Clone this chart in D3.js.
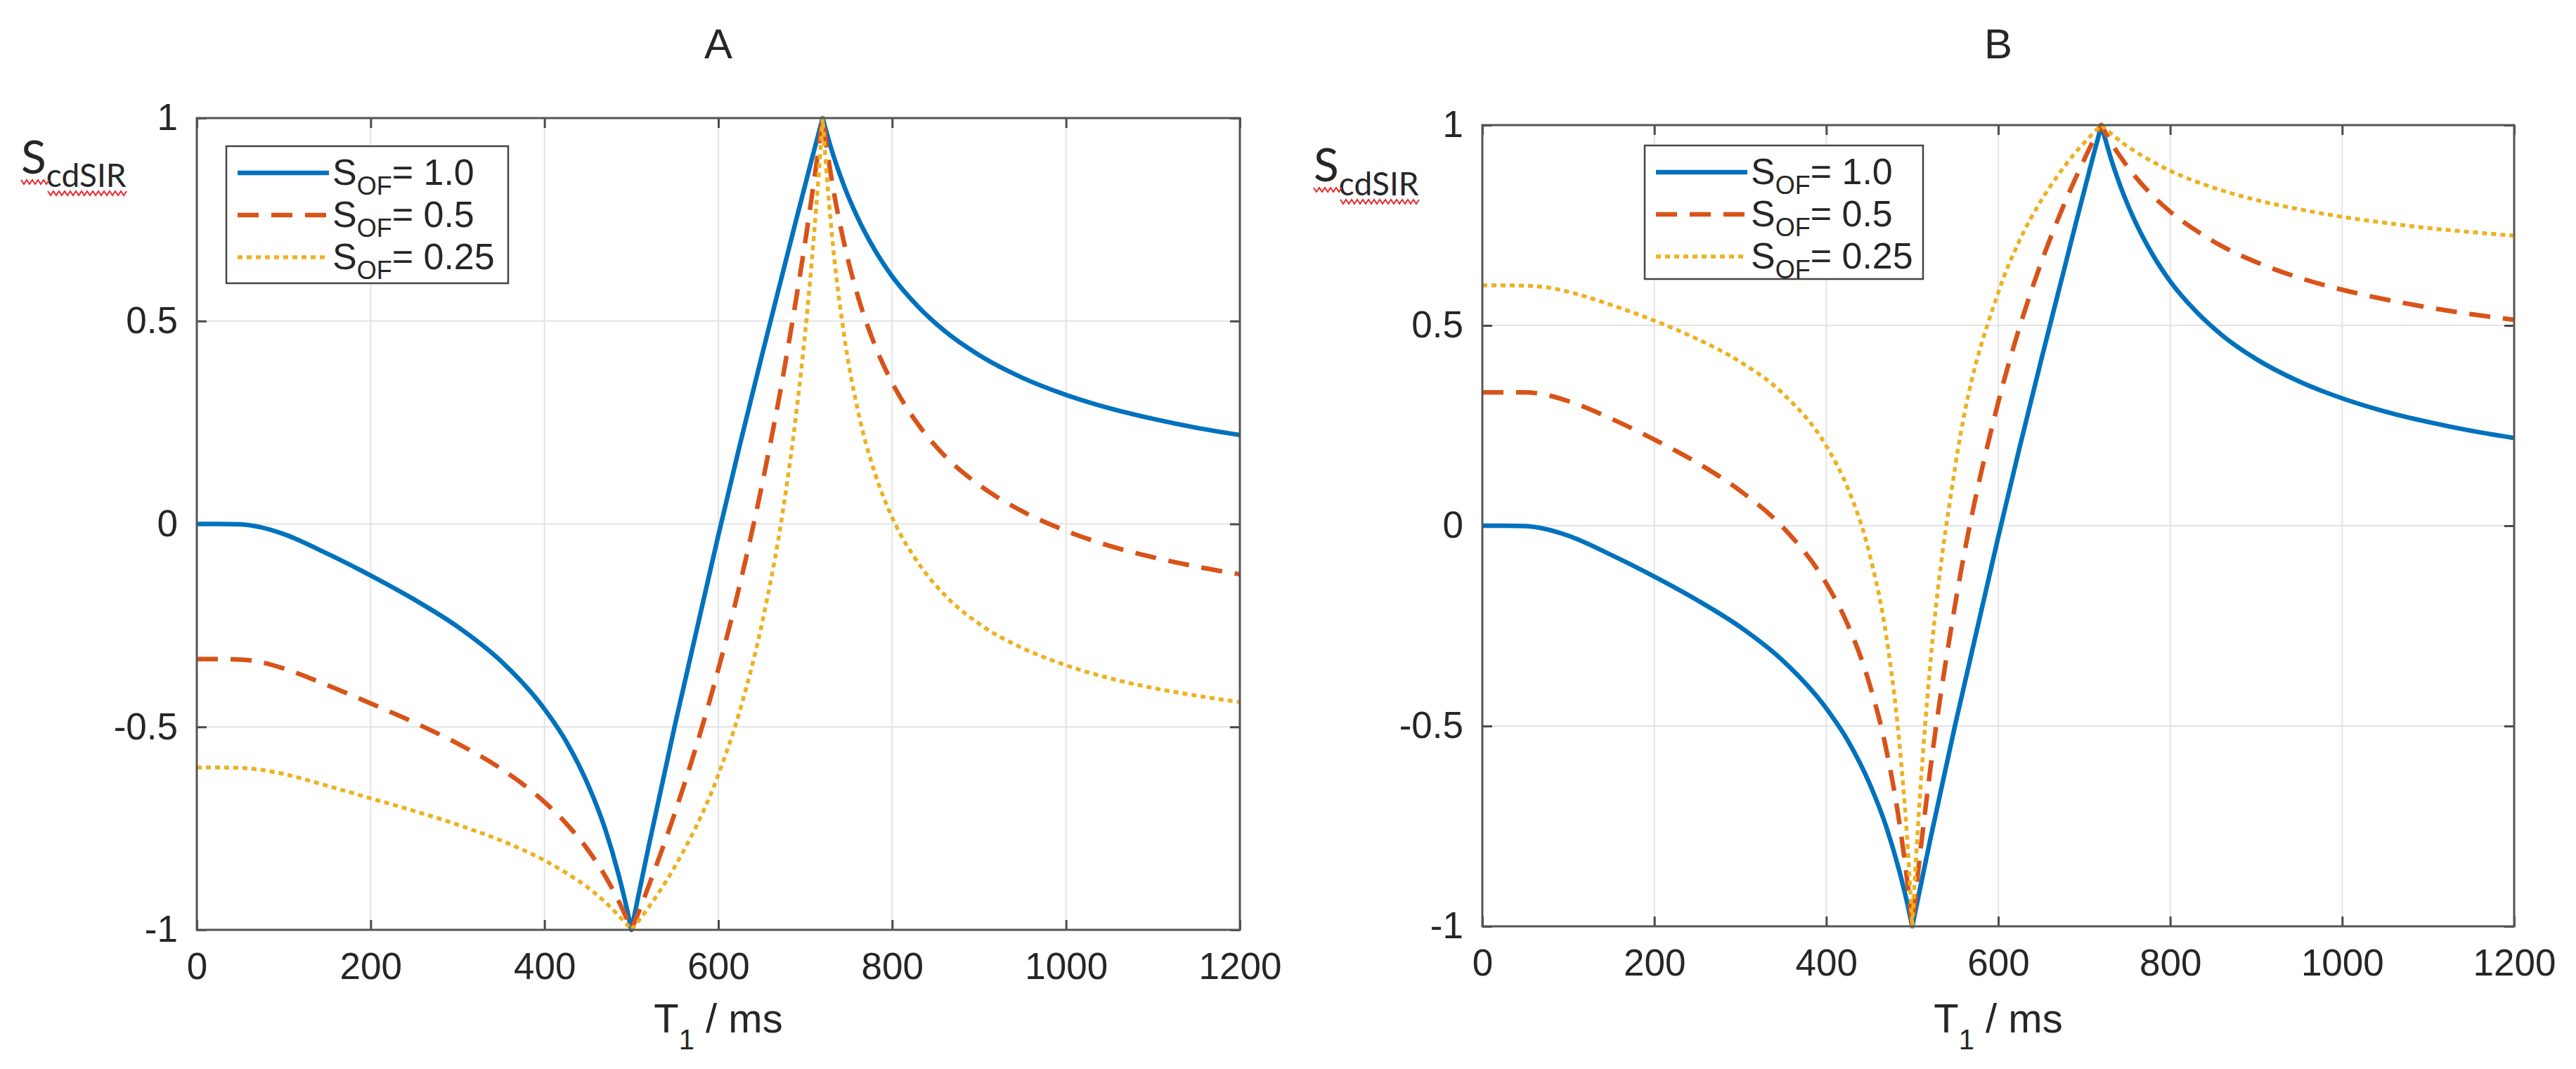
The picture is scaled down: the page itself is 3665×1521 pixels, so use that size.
<!DOCTYPE html>
<html>
<head>
<meta charset="utf-8">
<script src="https://cdn.jsdelivr.net/npm/d3@7"></script>
<style>
  body { margin: 0; background: #fff; }
  svg text { font-family: "Liberation Sans", Arial, sans-serif; fill: #262626; }
</style>
</head>
<body>
<div id="chart"></div>
<script>
// T1 in ms, shared by every curve
const t1 = [0, 25, 50, 75, 100, 150, 200, 250, 300, 350, 400, 425, 450, 470, 485, 495, 500, 505, 510, 520,
  550, 600, 625, 650, 675, 690, 700, 710, 715, 720, 725, 730, 745, 760, 780, 800, 830, 860, 900, 950,
  1000, 1050, 1100, 1150, 1200];

// panel A
const aSof100 = [0, 0, -0.001, -0.009, -0.025, -0.073, -0.127, -0.186, -0.253, -0.338, -0.456, -0.536, -0.642, -0.753, -0.862,
  -0.950, -1, -0.948, -0.896, -0.793, -0.496, -0.028, 0.197, 0.414, 0.626, 0.753, 0.836, 0.919, 0.959, 1,
  0.961, 0.924, 0.831, 0.756, 0.675, 0.610, 0.535, 0.476, 0.416, 0.360, 0.318, 0.285, 0.259, 0.237, 0.219];
const aSof050 = [-0.333, -0.333, -0.334, -0.341, -0.356, -0.397, -0.442, -0.489, -0.541, -0.603, -0.685, -0.738, -0.803, -0.868, -0.928,
  -0.974, -1, -0.974, -0.947, -0.891, -0.712, -0.358, -0.147, 0.094, 0.371, 0.561, 0.696, 0.844, 0.920, 1,
  0.923, 0.854, 0.689, 0.565, 0.441, 0.348, 0.245, 0.169, 0.096, 0.031, -0.017, -0.054, -0.082, -0.105, -0.124];
const aSof025 = [-0.600, -0.600, -0.601, -0.606, -0.616, -0.645, -0.676, -0.707, -0.741, -0.780, -0.829, -0.860, -0.896, -0.932, -0.964,
  -0.987, -1, -0.987, -0.973, -0.944, -0.844, -0.618, -0.458, -0.247, 0.042, 0.279, 0.473, 0.711, 0.847, 1,
  0.852, 0.728, 0.461, 0.285, 0.126, 0.016, -0.096, -0.174, -0.246, -0.306, -0.348, -0.380, -0.404, -0.423, -0.439];

// panel B
const bSof100 = [0, 0, -0.001, -0.009, -0.025, -0.073, -0.127, -0.186, -0.253, -0.338, -0.456, -0.536, -0.642, -0.753, -0.862,
  -0.950, -1, -0.948, -0.896, -0.793, -0.496, -0.028, 0.197, 0.414, 0.626, 0.753, 0.836, 0.919, 0.959, 1,
  0.961, 0.924, 0.831, 0.756, 0.675, 0.610, 0.535, 0.476, 0.416, 0.360, 0.318, 0.285, 0.259, 0.237, 0.219];
const bSof050 = [0.333, 0.333, 0.333, 0.326, 0.311, 0.267, 0.215, 0.157, 0.087, -0.005, -0.144, -0.247, -0.393, -0.561, -0.741,
  -0.902, -1, -0.899, -0.803, -0.625, -0.195, 0.308, 0.497, 0.657, 0.794, 0.868, 0.914, 0.959, 0.980, 1,
  0.980, 0.961, 0.912, 0.870, 0.823, 0.784, 0.737, 0.698, 0.658, 0.619, 0.589, 0.565, 0.545, 0.528, 0.514];
const bSof025 = [0.600, 0.600, 0.599, 0.595, 0.584, 0.551, 0.512, 0.466, 0.409, 0.329, 0.199, 0.094, -0.068, -0.279, -0.542,
  -0.812, -1, -0.808, -0.641, -0.368, 0.148, 0.582, 0.713, 0.812, 0.891, 0.932, 0.956, 0.979, 0.990, 1,
  0.990, 0.981, 0.955, 0.933, 0.908, 0.886, 0.859, 0.837, 0.813, 0.790, 0.771, 0.756, 0.743, 0.733, 0.724];

const legendValues = ["1.0", "0.5", "0.25"];
const xTicks = [0, 200, 400, 600, 800, 1000, 1200];
const yTicks = [-1, -0.5, 0, 0.5, 1];
const yTickLabels = ["-1", "-0.5", "0", "0.5", "1"];

const W = 3665, H = 1521;
const colors = ["#0072BD", "#D95319", "#EDB120"];
const dashes = [null, "30,18", "7,6"];
const widths = [6.5, 6.5, 5.5];

const panels = [
  { title: "A", series: [aSof100, aSof050, aSof025],
    box: { left: 280, right: 1764, top: 168, bottom: 1323 },
    legend: { x: 322, y: 208, w: 401, h: 195 }, ylab: { x: 30, y: 247, sub: 266 } },
  { title: "B", series: [bSof100, bSof050, bSof025],
    box: { left: 2109, right: 3577, top: 178, bottom: 1318 },
    legend: { x: 2340, y: 207, w: 396, h: 190 }, ylab: { x: 1869, y: 258, sub: 278 } }
];

const svg = d3.select("#chart").append("svg")
  .attr("width", W).attr("height", H)
  .style("background", "#fff");

// split a series at its cusps so the monotone curve keeps them sharp
function segments(vals) {
  const out = [];
  let start = 0;
  for (let i = 1; i < vals.length - 1; i++) {
    if ((vals[i] - vals[i - 1]) * (vals[i + 1] - vals[i]) < 0) {
      out.push([start, i]);
      start = i;
    }
  }
  out.push([start, vals.length - 1]);
  return out;
}

function squiggle(g, x0, x1, y) {
  const pts = [];
  for (let x = x0, k = 0; x <= x1; x += 4, k++) pts.push([x, y + (k % 2 ? 3 : -3)]);
  g.append("path").attr("d", d3.line()(pts))
    .attr("fill", "none").attr("stroke", "#e8262a").attr("stroke-width", 2);
}

panels.forEach((p) => {
  const b = p.box;
  const width = b.right - b.left;
  const height = b.bottom - b.top;
  const x = d3.scaleLinear().domain([0, 1200]).range([0, width]);
  const y = d3.scaleLinear().domain([-1, 1]).range([height, 0]);

  const g = svg.append("g").attr("transform", `translate(${b.left},${b.top})`);

  // grid
  g.selectAll(".vgrid").data(xTicks.slice(1, -1)).enter().append("line")
    .attr("x1", (d) => x(d)).attr("x2", (d) => x(d))
    .attr("y1", 0).attr("y2", height)
    .attr("stroke", "#e3e3e3").attr("stroke-width", 2);
  g.selectAll(".hgrid").data(yTicks.slice(1, -1)).enter().append("line")
    .attr("y1", (d) => y(d)).attr("y2", (d) => y(d))
    .attr("x1", 0).attr("x2", width)
    .attr("stroke", "#e3e3e3").attr("stroke-width", 2);

  // axes with inward ticks
  const bottom = g.append("g").attr("transform", `translate(0,${height})`)
    .call(d3.axisBottom(x).tickValues(xTicks).tickFormat(d3.format("d")).tickSize(-14).tickPadding(32));
  const left = g.append("g")
    .call(d3.axisLeft(y).tickValues(yTicks).tickFormat((d, i) => yTickLabels[i]).tickSize(-14).tickPadding(27));
  const top = g.append("g").call(d3.axisTop(x).tickValues(xTicks).tickSize(-14).tickFormat(""));
  const right = g.append("g").attr("transform", `translate(${width},0)`)
    .call(d3.axisRight(y).tickValues(yTicks).tickSize(-14).tickFormat(""));

  [bottom, left, top, right].forEach((a) => {
    a.select(".domain").remove();
    a.selectAll(".tick line").attr("stroke", "#4a4a4a").attr("stroke-width", 3);
    a.selectAll("text").style("font-size", "53px").attr("fill", "#262626");
  });

  // curves
  p.series.forEach((vals, si) => {
    const line = d3.line().x((d) => x(d[0])).y((d) => y(d[1])).curve(d3.curveMonotoneX);
    const pts = t1.map((t, i) => [t, vals[i]]);
    const d = segments(vals)
      .map(([s, e], k) => {
        const part = line(pts.slice(s, e + 1));
        return k === 0 ? part : "L" + part.slice(1);
      })
      .join("");
    g.append("path").attr("d", d)
      .attr("fill", "none")
      .attr("stroke", colors[si])
      .attr("stroke-width", widths[si])
      .attr("stroke-linejoin", "round")
      .attr("stroke-dasharray", dashes[si]);
  });

  // box
  g.append("rect").attr("width", width).attr("height", height)
    .attr("fill", "none").attr("stroke", "#555").attr("stroke-width", 3);

  // title
  svg.append("text").attr("x", b.left + width / 2).attr("y", 83)
    .attr("text-anchor", "middle").style("font-size", "60px").text(p.title);

  // x label
  const xl = svg.append("text").attr("x", b.left + width / 2).attr("y", 1469)
    .attr("text-anchor", "middle").style("font-size", "58px");
  xl.append("tspan").text("T");
  xl.append("tspan").attr("dy", 24).style("font-size", "40px").text("1");
  xl.append("tspan").attr("dy", -24).text(" / ms");

  // y label with its spell-check underline
  const yl = svg.append("text").attr("x", p.ylab.x).attr("y", p.ylab.y)
    .style("font-family", "Lato, 'Open Sans', sans-serif").style("font-size", "66px");
  yl.append("tspan").text("S");
  yl.append("tspan").attr("y", p.ylab.sub).style("font-size", "46px").text("cdSIR");
  squiggle(svg, p.ylab.x, p.ylab.x + 42, p.ylab.y + 12);
  squiggle(svg, p.ylab.x + 38, p.ylab.x + 152, p.ylab.sub + 9);

  // legend
  const L = p.legend;
  const lg = svg.append("g").attr("transform", `translate(${L.x},${L.y})`);
  lg.append("rect").attr("width", L.w).attr("height", L.h)
    .attr("fill", "#fff").attr("stroke", "#444").attr("stroke-width", 2.5);
  legendValues.forEach((v, i) => {
    const cy = 38 + i * 60;
    lg.append("line").attr("x1", 16).attr("x2", 146).attr("y1", cy).attr("y2", cy)
      .attr("stroke", colors[i]).attr("stroke-width", widths[i])
      .attr("stroke-dasharray", dashes[i]);
    const t = lg.append("text").attr("x", 151).attr("y", cy + 17).style("font-size", "52px");
    t.append("tspan").text("S");
    t.append("tspan").attr("dy", 14).style("font-size", "36px").text("OF");
    t.append("tspan").attr("dy", -14).text("= " + v);
  });
});
</script>
</body>
</html>
